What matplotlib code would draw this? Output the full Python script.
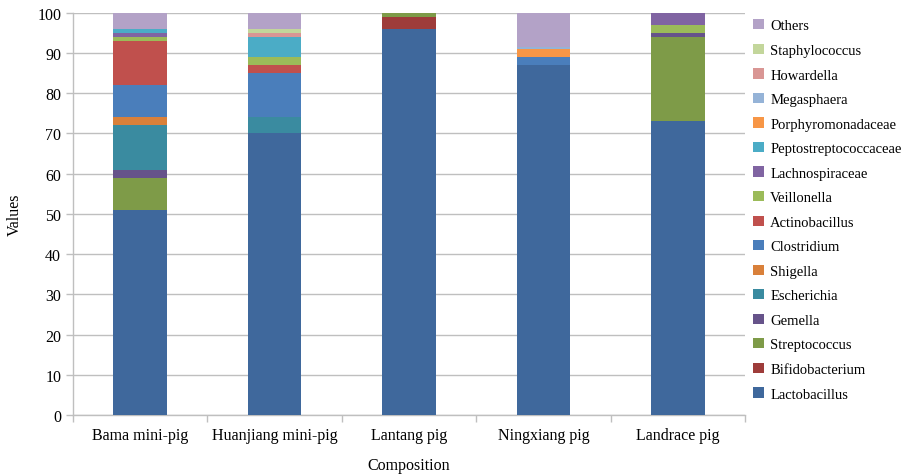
import matplotlib.pyplot as plt
import numpy as np
from matplotlib.patches import Patch

plt.rcParams["font.family"] = ["Liberation Serif", "DejaVu Serif"]

# ---------------------------------------------------------------------------
# Data (percent composition per breed)
# ---------------------------------------------------------------------------
breeds = ["Bama mini-pig", "Huanjiang mini-pig", "Lantang pig",
          "Ningxiang pig", "Landrace pig"]

genera = ["Lactobacillus", "Bifidobacterium", "Streptococcus", "Gemella",
          "Escherichia", "Shigella", "Clostridium", "Actinobacillus",
          "Veillonella", "Lachnospiraceae", "Peptostreptococcaceae",
          "Porphyromonadaceae", "Megasphaera", "Howardella",
          "Staphylococcus", "Others"]

lactobacillus = [51, 70, 96, 87, 73]
bifidobacterium = [0, 0, 3, 0, 0]
streptococcus = [8, 0, 1, 0, 21]
gemella = [2, 0, 0, 0, 1]
escherichia = [11, 4, 0, 0, 0]
shigella = [2, 0, 0, 0, 0]
clostridium = [8, 11, 0, 2, 0]
actinobacillus = [11, 2, 0, 0, 0]
veillonella = [1, 2, 0, 0, 2]
lachnospiraceae = [1, 0, 0, 0, 3]
peptostreptococcaceae = [1, 5, 0, 0, 0]
porphyromonadaceae = [0, 0, 0, 2, 0]
megasphaera = [0, 0, 0, 0.5, 0]
howardella = [0, 1, 0, 0, 0]
staphylococcus = [0, 1, 0, 0, 0]
others = [4, 4, 0, 8.5, 0]

series = [lactobacillus, bifidobacterium, streptococcus, gemella,
          escherichia, shigella, clostridium, actinobacillus, veillonella,
          lachnospiraceae, peptostreptococcaceae, porphyromonadaceae,
          megasphaera, howardella, staphylococcus, others]

colors = ["#3F689C", "#9E3C3A", "#7E9B48", "#66538A", "#3A8BA0", "#D9803A",
          "#4A7EBB", "#C0504D", "#9BBB59", "#8064A2", "#4BACC6", "#F79646",
          "#95B3D7", "#D99694", "#C3D69B", "#B3A2C7"]

# ---------------------------------------------------------------------------
# Plot
# ---------------------------------------------------------------------------
fig = plt.figure(figsize=(9.12, 4.77), dpi=100)
ax = fig.add_axes([0.080, 0.128, 0.737, 0.843])

x = np.arange(len(breeds))
bottom = np.zeros(len(breeds))
for vals, col in zip(series, colors):
    ax.bar(x, vals, 0.4, bottom=bottom, color=col, linewidth=0, zorder=3)
    bottom += np.array(vals, dtype=float)

ax.set_xlim(-0.5, len(breeds) - 0.5)
ax.set_ylim(0, 100)
ax.set_yticks(np.arange(0, 101, 10))
ax.set_xticks(x)
ax.set_xticklabels(breeds, fontsize=11.5)
ax.set_xticks(np.arange(-0.5, len(breeds)), minor=True)
ax.tick_params(axis="x", which="major", length=0, pad=9)
ax.tick_params(axis="x", which="minor", length=5, color="#BFBFBF", width=1)
ax.tick_params(axis="y", length=5, color="#BFBFBF", width=1, labelsize=11.5)

ax.grid(axis="y", color="#BFBFBF", linewidth=1, zorder=0)
for side in ["top", "right"]:
    ax.spines[side].set_visible(False)
for side in ["left", "bottom"]:
    ax.spines[side].set_color("#BFBFBF")
    ax.spines[side].set_linewidth(1)

ax.set_xlabel("Composition", fontsize=11.5, labelpad=10)
ax.set_ylabel("Values", fontsize=11.5, labelpad=10)

handles = [Patch(facecolor=c, edgecolor="none") for c in colors]
fig.legend(handles[::-1], genera[::-1], loc="upper left",
           bbox_to_anchor=(0.815, 0.979), frameon=False, fontsize=10.5,
           handlelength=0.7, handleheight=0.7, handletextpad=0.45,
           labelspacing=0.777, borderaxespad=0.3)

fig.savefig("out.png", dpi=100)
